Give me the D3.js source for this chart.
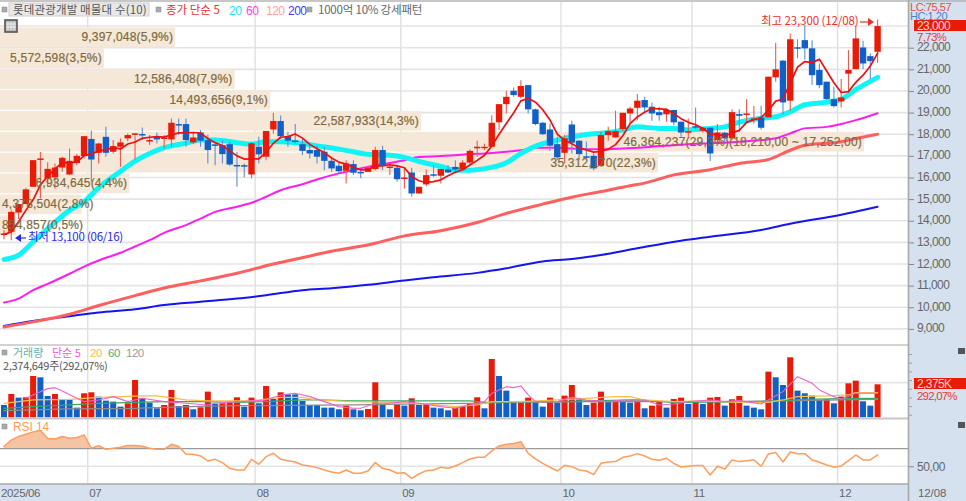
<!DOCTYPE html>
<html>
<head>
<meta charset="utf-8">
<script src="https://cdnjs.cloudflare.com/ajax/libs/d3/7.8.5/d3.min.js"></script>
<style>
  html, body { margin: 0; padding: 0; background: #fff; overflow: hidden; }
  svg { display: block; }
  text { font-family: "Liberation Sans", "Noto Sans CJK KR", sans-serif; }
  .kr { font-family: "Noto Sans CJK KR", sans-serif; }
</style>
</head>
<body>
<svg id="chart" width="966" height="501"></svg>
<script>
// daily candles (06/16 .. 12/08)
var opens = [13410,13490,14380,14770,15570,16880,15950,16000,16460,16140,16670,16990,17780,17140,17880,17190,17420,17810,18030,18010,17720,17910,17850,17760,18470,18470,17620,18080,17730,17530,17500,17540,16580,16570,16140,17420,16960,18220,18610,17910,17710,17540,17270,17270,
  17190,16770,16540,16310,16620,16260,16260,16390,17270,16480,16450,15980,16230,15260,15680,16150,16080,16370,16490,16370,16690,17410,17420,17420,18550,19390,20010,19730,20270,19150,18530,18220,17540,17140,18450,17700,16980,17000,16540,17960,17850,18240,18960,19220,
  19580,19270,19020,18920,19120,18580,18130,18370,18160,18300,17730,18070,17810,18930,18950,18730,18760,18780,20630,21400,19550,22020,22350,21970,20970,20430,19620,19520,20800,21010,22010,21610,21810];
var closes = [13410,14410,14770,15450,16800,16880,16400,16460,16910,16770,17000,17910,16830,17570,17140,17450,17620,17960,18040,17960,17730,17760,17850,18530,18450,17730,17850,17700,17270,17500,17080,16600,16530,16530,17580,17070,18150,18610,17910,17700,17670,17230,17110,16960,
  16770,16420,16290,16650,16220,16190,16450,17270,16540,16510,15920,16000,15260,15570,16110,16120,16390,16230,16370,16690,17230,17420,17420,18530,19390,19730,19810,20230,19150,18470,18000,17470,16930,17810,17610,17080,16960,16420,17960,18140,18140,18990,19190,19550,
  19240,18960,18880,19120,18550,18080,18140,18310,18300,17110,18080,17810,19020,18850,18960,18730,18300,20660,21000,19470,22390,22000,21970,20730,20270,19620,19300,19700,20970,22430,21270,21380,23000];
var highs = [13570,14480,14780,15530,16800,17180,16700,16650,16960,17340,17080,17910,18160,17610,18340,17730,17810,18030,18040,18310,17960,18080,17960,18730,18730,18730,18070,18190,17980,17570,17730,17650,17180,16650,17650,17880,18150,18990,18860,18110,18470,17780,17580,17480,
  17420,16860,16680,16800,16800,16340,16540,17420,17470,16570,16570,16420,16450,15570,16370,16570,16390,16570,16800,16800,17300,17700,17570,18880,19390,20010,20160,20500,20270,19190,18580,18500,17880,17960,18620,17730,17650,17110,18110,18340,19090,18990,19270,19860,
  19730,19470,19270,19190,19120,18580,18730,19240,18300,18300,18470,18110,19160,19160,19620,19300,19320,20660,22230,21430,22660,22390,23050,22350,21270,20430,20200,20550,21890,23000,22320,21740,23300];
var lows = [13150,13100,14080,14770,15570,15030,15580,15490,16260,16110,16570,16880,15800,16650,16960,17110,16490,17680,16830,17730,17500,17570,17340,17420,17960,17420,17540,17420,16650,16570,16650,16540,15570,16000,15960,16650,16800,18030,17780,17420,17570,17030,16880,16650,
  16340,16260,16190,15720,16110,15960,16260,16340,16340,16110,15800,15490,15110,15260,15600,16030,15720,16190,16190,16340,16570,16960,17270,17420,18190,18960,19730,19660,18960,18420,17960,17230,16800,16650,17110,16800,16880,16340,16540,17700,17850,18140,18500,18650,
  18960,18620,18620,18580,18420,17880,17810,18220,18080,16760,17650,17650,17730,18110,18500,18500,18220,18780,20430,18920,19090,21510,21460,20270,20120,19580,19240,19240,19960,21010,21010,20550,21300];

// moving averages. ma5 per bar, the slower ones as [bar, price] read at intervals
var ma5 = [13370,13480,13950,14480,14970,15660,16060,16400,16690,16680,16710,17010,17090,17220,17290,17380,17320,17550,17640,17810,17860,17890,17870,17970,18060,18060,18080,18050,17800,17610,17480,17230,17000,16850,16860,16860,17170,17580,17860,17890,18010,17820,17530,17330,
  17150,16900,16710,16620,16470,16350,16360,16550,16530,16590,16540,16450,16050,15850,15770,15810,15890,16080,16240,16360,16580,16790,17030,17460,18000,18500,18980,19540,19660,19480,19130,18660,18000,17730,17560,17380,17270,17170,17200,17310,17520,17930,18490,18800,
  19020,19190,19170,19150,18950,18720,18550,18440,18280,17990,17990,17920,18060,18180,18550,18670,18770,19100,19530,19630,20360,21100,21360,21310,21470,20920,20380,19930,19970,20400,20730,21150,21750];
var ma20 = [[0,12210],[2,12410],[4,13020],[6,13630],[9,14480],[11,14880],[13,15530],[16,16280],[18,16760],[20,17110],[22,17380],[25,17590],[27,17730],[29,17730],[32,17610],[34,17540],[36,17650],[38,17650],[41,17570],[43,17460],[46,17310],[48,17190],[50,17070],[53,17030],[55,16930],[57,16740],[60,16510],[62,16340],[64,16340],[66,16410],[69,16680],[71,17110],[73,17450],[76,17720],[78,17880],[80,17990],[83,18080],[85,18190],[87,18340],[90,18270],[92,18270],[94,18200],[97,18270],[99,18340],[101,18560],[104,18740],[106,18810],[108,19040],[110,19360],[113,19480],[115,19610],[117,20060],[120,20630]];
var ma60 = [[0,10220],[2,10400],[4,10790],[6,11080],[9,11550],[11,11880],[13,12160],[16,12520],[18,12810],[20,13100],[22,13440],[25,13800],[27,14100],[29,14410],[32,14650],[34,14830],[36,15110],[38,15410],[41,15690],[43,15910],[46,16190],[48,16340],[50,16490],[53,16670],[55,16800],[57,16950],[60,16990],[62,17030],[64,17080],[66,17110],[69,17190],[71,17260],[73,17370],[76,17370],[78,17340],[80,17310],[83,17310],[85,17340],[87,17370],[90,17450],[92,17490],[94,17540],[97,17580],[99,17610],[101,17650],[104,17730],[106,17810],[108,18040],[110,18270],[113,18340],[115,18470],[117,18650],[120,18970]];
var ma120 = [[0,9090],[4,9325],[9,9680],[13,10080],[18,10540],[22,10890],[27,11220],[32,11570],[37,12000],[40,12220],[44,12520],[51,12960],[55,13300],[60,13540],[65,13920],[69,14340],[74,14770],[78,15090],[82,15350],[86,15620],[88,15740],[92,16120],[97,16360],[101,16650],[105,16830],[108,17260],[110,17490],[115,17650],[117,17800],[120,18000]];
var ma200 = [[0,9140],[4,9370],[9,9590],[13,9760],[18,9910],[22,10100],[27,10250],[32,10400],[36,10560],[41,10790],[45,10880],[50,11040],[55,11240],[59,11385],[65,11590],[69,11800],[74,12120],[78,12230],[82,12416],[87,12726],[93,13077],[97,13262],[104,13572],[108,13860],[115,14280],[120,14650]];

// volume in thousands of shares
var volumes = [888,1680,1416,1440,2976,2880,1536,1680,1248,1248,696,1728,1800,1488,1200,1128,768,1008,2688,1368,1056,648,888,1968,816,888,576,720,1848,960,1008,1128,1440,768,1416,1008,2256,1320,1800,1656,1650,1176,888,888,
  696,696,576,840,576,504,600,2520,888,576,936,840,1368,888,936,696,648,504,696,816,1008,1440,648,4200,2976,1920,1056,1176,1416,1080,768,1416,1056,1560,2328,1296,888,1056,1848,1128,1176,1128,1056,1128,
  648,840,1128,696,1320,1416,960,1128,960,1416,1464,840,1296,1536,840,696,576,3288,2880,2328,4320,1920,1728,1560,1248,1296,1008,1488,2448,2640,1152,840,2375];
var vma5 = [[3,1368],[5,1848],[6,2064],[7,2136],[8,1896],[10,1368],[11,1128],[13,1248],[15,1488],[17,1128],[19,1368],[22,1128],[25,1008],[28,888],[29,1008],[36,1248],[38,1608],[40,1728],[42,1488],[44,1128],[46,768],[48,648],[49,648],[51,1008],[53,1008],[55,1128],[57,1008],[60,768],[62,648],[64,888],[66,1128],[67,1728],[69,2208],[70,2136],[71,2256],[72,1608],[73,1128],[76,1128],[78,1440],[80,1248],[83,1128],[85,1248],[88,1248],[90,888],[92,960],[94,1128],[97,1248],[99,1128],[101,1200],[104,960],[105,1248],[107,1848],[109,2928],[111,2448],[112,1968],[114,1488],[115,1296],[117,1728],[120,1728]];
var vma20 = [[0,1008],[4,1248],[9,1296],[13,1440],[16,1488],[19,1536],[21,1536],[25,1248],[28,1176],[32,1176],[34,1176],[38,1440],[41,1440],[43,1248],[48,1128],[53,1080],[57,1008],[62,768],[65,888],[67,1128],[71,1128],[76,1248],[80,1368],[84,1488],[86,1488],[88,1248],[92,1128],[96,1176],[101,1080],[105,1080],[107,1248],[109,1488],[113,1536],[116,1608],[117,1776],[120,1776]];
var vma60 = [[0,648],[4,768],[9,888],[13,1008],[18,1080],[22,1128],[27,1128],[32,1080],[36,1128],[41,1248],[43,1248],[48,1176],[53,1176],[57,1176],[64,1176],[66,1080],[71,1128],[76,1128],[80,1176],[87,1248],[92,1080],[101,1104],[106,1176],[110,1296],[115,1344],[120,1368]];
var vma120 = [[0,480],[9,600],[18,648],[22,720],[27,780],[32,840],[48,888],[57,960],[64,1008],[71,1080],[80,1128],[97,1128],[106,1176],[120,1296]];

var rsi = [72.3,79.8,83.6,86.2,88.9,90.4,81.3,80.9,83.6,81.7,82.5,85.5,70.4,73.4,69.2,70.4,71.5,73.4,73.4,72.6,70.4,69.2,69.2,74.9,72.3,63.6,63.6,61.7,56,57.9,54.2,47.7,45.8,45.8,57.9,52.3,60.9,64.7,57.9,56.4,54.9,51.5,50.4,48.5,
  45.8,43.6,42.1,45.8,42.1,42.1,44.7,54.2,47.7,45.8,42.1,42.8,36.4,41.3,45.1,45.8,48.9,47.7,50.4,54.2,58.3,60.2,60.2,67.4,73,74.9,75.7,77.9,64.7,58.3,53.4,48.9,44.7,51.1,49.6,45.8,44.7,40.6,53.4,54.9,55.3,60.2,61.7,64.3,
  61.7,57.9,56.8,59.1,53.4,49.2,50,50.8,50.8,40.2,50,47,57.2,55.3,56.4,57.2,50,64,65.5,54.9,66.2,64.3,64.3,57.2,54.5,51.5,48.9,50.4,56.4,62.8,57.2,57.2,62.8];

// price-volume bands (매물대), top to bottom
var bandVolumes = [9397048,5572598,12586408,14493656,22587933,46364237,35312170,6934645,4378504,854857];
var bandLabels = ["9,397,048(5,9%)","5,572,598(3,5%)","12,586,408(7,9%)","14,493,656(9,1%)","22,587,933(14,3%)","46,364,237(29,3%)(18,210,00 ~ 17,252,00)","35,312,170(22,3%)","6,934,645(4,4%)","4,378,504(2,8%)","854,857(0,5%)"];

var priceTicks = [9000,10000,11000,12000,13000,14000,15000,16000,17000,18000,19000,20000,21000,22000];
var gridPrices = priceTicks.concat([23000]);
var monthBars = [12,35,55,77,95,115];
var monthLabels = ["07","08","09","10","11","12"];

var svg = d3.select("#chart"),
    plotRight = 908,
    axisBg = "#d6e1ef",
    red = "#ea1a08",
    blue = "#1060c8";

var x = d3.scaleLinear().domain([0, 120]).range([4, 877.6]);
var y = d3.scaleLinear().domain([9000, 22000]).range([328.9, 47.7]);
var yVol = d3.scaleLinear().domain([0, 5184]).range([417.3, 345.3]);
var yRsi = d3.scaleLinear().domain([30, 103]).range([484, 419.4]);
var xBand = d3.scaleLinear().domain([0, 46364237]).range([0, 864]);
var yBand = d3.scaleBand().domain(d3.range(bandVolumes.length)).range([27.5, 235]).paddingInner(0.06);

var fmt = d3.format(",");

// backgrounds
svg.append("rect").attr("x", 0).attr("y", 484).attr("width", 966).attr("height", 17).attr("fill", axisBg);
svg.append("rect").attr("x", plotRight).attr("y", 0).attr("width", 58).attr("height", 501).attr("fill", axisBg);

// grid
var grid = svg.append("g");
grid.selectAll(".hg").data(gridPrices).enter().append("line")
  .attr("x1", 0).attr("x2", plotRight)
  .attr("y1", function(d) { return y(d); }).attr("y2", function(d) { return y(d); })
  .attr("stroke", "#e4e4e4").attr("stroke-width", 1.6);
grid.selectAll(".vg").data(monthBars).enter().append("line")
  .attr("x1", function(d) { return x(d - 0.5); }).attr("x2", function(d) { return x(d - 0.5); })
  .attr("y1", 2).attr("y2", 501)
  .attr("stroke", "#e0e0e0").attr("stroke-width", 1.4);

// volume profile bars
svg.append("g").selectAll("rect").data(bandVolumes).enter().append("rect")
  .attr("x", 0)
  .attr("y", function(d, i) { return yBand(i); })
  .attr("width", function(d) { return xBand(d); })
  .attr("height", yBand.bandwidth())
  .attr("fill", "#f5e8d8");

// slow averages sit under the candles
var lineBy = function(yScale, curve) {
  return d3.line().x(function(d) { return x(d[0]); }).y(function(d) { return yScale(d[1]); })
    .curve(curve || d3.curveLinear);
};
var addLine = function(g, data, yScale, color, w, curve) {
  g.append("path").datum(data)
    .attr("d", lineBy(yScale, curve))
    .attr("fill", "none").attr("stroke", color).attr("stroke-width", w)
    .attr("stroke-linejoin", "round").attr("stroke-linecap", "round");
};
var under = svg.append("g");
addLine(under, ma200, y, "#1414f0", 2, d3.curveMonotoneX);
addLine(under, ma120, y, "#ff5f5f", 3, d3.curveMonotoneX);
addLine(under, ma60, y, "#ff1cf0", 2, d3.curveMonotoneX);
addLine(under, ma20, y, "#0ff5f5", 5, d3.curveMonotoneX);

// candles
var candles = svg.append("g").selectAll("g").data(d3.range(opens.length)).enter().append("g");
candles.append("line")
  .attr("x1", function(i) { return x(i); }).attr("x2", function(i) { return x(i); })
  .attr("y1", function(i) { return y(highs[i]); }).attr("y2", function(i) { return y(lows[i]); })
  .attr("stroke", function(i) { return closes[i] >= opens[i] ? "#ef5a4e" : "#5c8fd6"; })
  .attr("stroke-width", 1.1);
candles.append("rect")
  .attr("x", function(i) { return x(i) - 3.2; })
  .attr("y", function(i) { return y(Math.max(opens[i], closes[i])); })
  .attr("width", 6.4)
  .attr("height", function(i) { return Math.max(1.5, Math.abs(y(opens[i]) - y(closes[i]))); })
  .attr("fill", function(i) { return closes[i] >= opens[i] ? red : blue; });

addLine(svg, ma5.map(function(v, i) { return [i, v]; }), y, "#ee1010", 1.7);

// band labels go over the candles
svg.append("g").selectAll("text").data(bandLabels).enter().append("text")
  .attr("y", function(d, i) { return yBand(i) + yBand.bandwidth() / 2 + 4; })
  .attr("font-size", 12)
  .attr("letter-spacing", 0.2)
  .attr("fill", "#7d6a42")
  .attr("stroke", "#7d6a42").attr("stroke-width", 0.2)
  .text(function(d) { return d; })
  .attr("x", function(d, i) {
    return Math.max(2, xBand(bandVolumes[i]) - 2 - this.getComputedTextLength());
  });

// volume panel
svg.append("line").attr("x1", 0).attr("x2", plotRight).attr("y1", yVol(2500)).attr("y2", yVol(2500))
  .attr("stroke", "#e4e4e4").attr("stroke-width", 1.6);
svg.append("g").selectAll("rect").data(volumes).enter().append("rect")
  .attr("x", function(d, i) { return x(i) - 3; })
  .attr("y", function(d) { return yVol(d); })
  .attr("width", 6)
  .attr("height", function(d) { return yVol(0) - yVol(d); })
  .attr("fill", function(d, i) { return i > 0 && d > volumes[i - 1] ? red : blue; });
addLine(svg, vma120, yVol, "#8c8c8c", 1.2);
addLine(svg, vma60, yVol, "#3aa860", 1.2);
addLine(svg, vma20, yVol, "#f5bf4a", 1.2);
addLine(svg, vma5, yVol, "#ee62d0", 1.1);

// rsi panel
svg.append("clipPath").attr("id", "rsiTop").append("rect")
  .attr("x", 0).attr("y", 419).attr("width", plotRight).attr("height", yRsi(70) - 419);
svg.append("path").datum(rsi)
  .attr("clip-path", "url(#rsiTop)")
  .attr("d", d3.area().x(function(d, i) { return x(i); }).y0(yRsi(70)).y1(function(d) { return yRsi(d); }))
  .attr("fill", "#f6c3a3");
svg.append("line").attr("x1", 0).attr("x2", plotRight).attr("y1", yRsi(50)).attr("y2", yRsi(50))
  .attr("stroke", "#e4e4e4").attr("stroke-width", 1.4);
svg.append("line").attr("x1", 0).attr("x2", plotRight).attr("y1", yRsi(70)).attr("y2", yRsi(70))
  .attr("stroke", "#9a9a9a").attr("stroke-width", 1.2);
addLine(svg, rsi.map(function(v, i) { return [i, v]; }), yRsi, "#ff9d5c", 1.5);

// panel borders
[[1, "#b4b4b4", 1.4], [345, "#c4c4c4", 1.4], [418.4, "#c6c6c6", 2], [484, "#a8a8a8", 1.4]].forEach(function(b) {
  svg.append("line").attr("x1", 0).attr("x2", b[0] == 1 ? 966 : plotRight).attr("y1", b[0]).attr("y2", b[0])
    .attr("stroke", b[1]).attr("stroke-width", b[2]);
});
svg.append("line").attr("x1", plotRight + 0.5).attr("x2", plotRight + 0.5).attr("y1", 0).attr("y2", 501)
  .attr("stroke", "#a8a8a8").attr("stroke-width", 1.6);

// price axis
var priceAxis = d3.axisRight(y).tickValues(priceTicks).tickSize(5).tickPadding(3)
  .tickFormat(function(d) { return fmt(d); });
var axG = svg.append("g").attr("transform", "translate(" + (plotRight + 1) + ",0)").call(priceAxis);
axG.select(".domain").remove();
axG.selectAll("line").attr("stroke", "#888");
axG.selectAll("text").attr("font-size", 12).attr("letter-spacing", -0.6).attr("fill", "#666")
  .attr("dy", "0.25em")
  .style("font-family", '"Liberation Sans", sans-serif');

// little ticks on the volume and rsi scales
var volMinor = d3.range(0, 5000, 625);
svg.append("g").selectAll("line").data(volMinor).enter().append("line")
  .attr("x1", plotRight + 1).attr("x2", plotRight + 4)
  .attr("y1", function(d) { return yVol(d) - 2; }).attr("y2", function(d) { return yVol(d) - 2; })
  .attr("stroke", "#a0a0a0");
var rsiAxis = d3.axisRight(yRsi).tickValues([50]).tickSize(5).tickPadding(3).tickFormat(function() { return "50,00"; });
var rsiG = svg.append("g").attr("transform", "translate(" + (plotRight + 1) + ",0)").call(rsiAxis);
rsiG.select(".domain").remove();
rsiG.selectAll("line").attr("stroke", "#888");
rsiG.selectAll("text").attr("font-size", 12).attr("letter-spacing", -0.4).attr("fill", "#666");

// bottom labels
var addText = function(tx, ty, str, color, size, cls, ls) {
  return svg.append("text").attr("x", tx).attr("y", ty).attr("fill", color)
    .attr("font-size", size || 12).attr("class", cls || null)
    .attr("letter-spacing", ls || 0).text(str);
};
addText(1, 497, "2025/06", "#666", 11.5, null, -0.35);
monthBars.forEach(function(m, i) {
  addText(x(m - 0.5) + 1.5, 497, monthLabels[i], "#666", 11.5, null, -0.3);
});
addText(918, 497, "12/08", "#666", 11.5, null, -0.1);

// right side badges
addText(910, 11, "LC:75,57", "#e84a3e", 11, null, -0.45);
addText(910, 20, "HC:1,20", "#4a7fd0", 11, null, -0.45);
svg.append("rect").attr("x", 914).attr("y", 20).attr("width", 52).attr("height", 11).attr("fill", red);
addText(917, 30, "23,000", "#ffd8d4", 12, null, -0.6);
addText(917, 41, "7,73%", "#e83a2e", 11.5, null, -0.7);
svg.append("rect").attr("x", 914).attr("y", 378).attr("width", 52).attr("height", 11).attr("fill", red);
addText(917, 388, "2,375K", "#ffd8d4", 12, null, -0.6);
addText(917, 399.5, "292,07%", "#e83a2e", 11.5, null, -0.8);
[351, 425].forEach(function(iy) {
  svg.append("rect").attr("x", 958).attr("y", iy - 3).attr("width", 7).attr("height", 6).attr("fill", "#555");
});

// high / low notes
addText(761, 25, "최고 23,300 (12/08)", "#e8302a", 11.5, "kr", -0.1);
svg.append("path").attr("d", "M860 22H870").attr("stroke", "#e8302a").attr("stroke-width", 1.2);
svg.append("path").attr("d", "M868 18L874 22L868 26Z").attr("fill", "#e8302a");
addText(28, 241, "최저 13,100 (06/16)", "#2a2ae8", 11.5, "kr", -0.25);
svg.append("path").attr("d", "M19 238H26").attr("stroke", "#2a2ae8").attr("stroke-width", 1.2);
svg.append("path").attr("d", "M15 238L21 234L21 242Z").attr("fill", "#2a2ae8");

// header row
var box = function(bx, by) {
  svg.append("rect").attr("x", bx).attr("y", by).attr("width", 5).attr("height", 5)
    .attr("fill", "#aaa").attr("stroke", "#888").attr("stroke-width", 0.5);
};
box(2, 7); box(156, 7); box(307, 7); box(2, 350); box(2, 424);
svg.append("rect").attr("x", 9).attr("y", 3).attr("width", 140).attr("height", 13).attr("fill", "#e8e8e8").attr("stroke", "#d0d0d0");
addText(13, 14, "롯데관광개발 매물대 수(10)", "#555", 11.5, "kr", 0.15);
addText(166, 14, "종가 단순 5", "#f03030", 11.5, "kr");
addText(229, 14.5, "20", "#20e8f0", 12, null, -0.5);
addText(246, 14.5, "60", "#ff40f0", 12, null, -0.5);
addText(266, 14.5, "120", "#ffa0a0", 12, null, -0.5);
addText(288, 14.5, "200", "#4040f0", 12, null, -0.5);
addText(318, 14, "1000억 10% 강세패턴", "#666", 11.5, "kr", -0.2);
svg.append("rect").attr("x", 5).attr("y", 20).attr("width", 12).attr("height", 12)
  .attr("fill", "#bbb").attr("stroke", "#555").attr("stroke-width", 1.6);
[8, 11, 14].forEach(function(gx) {
  svg.append("line").attr("x1", gx).attr("x2", gx).attr("y1", 22).attr("y2", 30).attr("stroke", "#eee");
});
[24, 27].forEach(function(gy) {
  svg.append("line").attr("x1", 6).attr("x2", 16).attr("y1", gy).attr("y2", gy).attr("stroke", "#eee");
});

// volume header
addText(13, 356.5, "거래량", "#5fb0b0", 11, "kr");
addText(52, 356.5, "단순 5", "#e860d0", 11, "kr");
addText(90, 357, "20", "#f4c050", 11.5, null, -0.5);
addText(108, 357, "60", "#4fb070", 11.5, null, -0.5);
addText(126, 357, "120", "#999", 11.5, null, -0.5);
addText(3, 369.5, "2,374,649주(292,07%)", "#555", 11, "kr", -0.3);

// rsi header
addText(13, 431, "RSI 14", "#ff9a5c", 12, null, -0.1);
</script>
</body>
</html>
